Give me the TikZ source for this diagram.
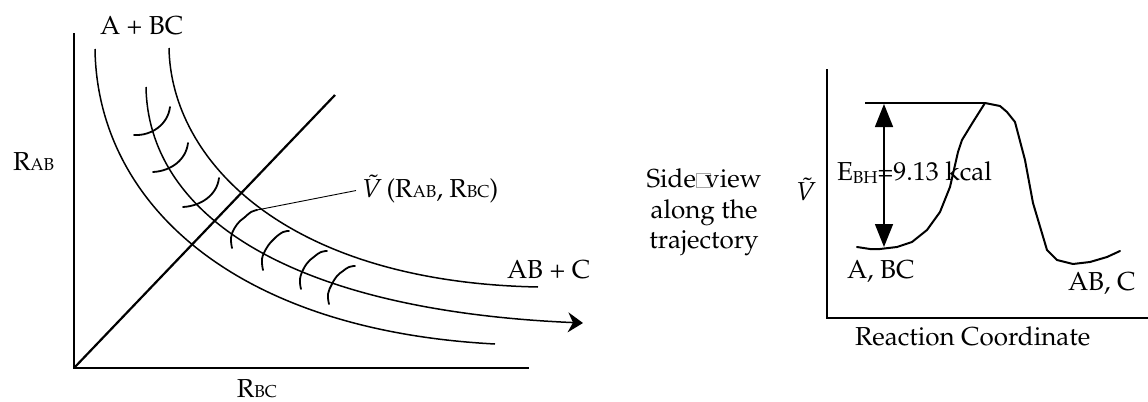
\documentclass[tikz,border=0pt]{standalone}
\usepackage[T1]{fontenc}
\usepackage{mathpazo}
\usetikzlibrary{arrows.meta}
\newcommand\smc[1]{{\fontsize{8.6pt}{10pt}\selectfont #1}}
\tikzset{
  lbl/.style={inner sep=0pt, outer sep=0pt, font=\fontsize{13pt}{16pt}\selectfont},
  axis/.style={line width=1.1pt},
  curve/.style={line width=0.75pt},
  tick/.style={line width=0.9pt, line cap=round},
  leader/.style={line width=0.45pt}
}
\begin{document}
\begin{tikzpicture}[x=0.5pt,y=-0.5pt]
\useasboundingbox (0,0) rectangle (1148,402);
% ---------- left panel ----------
\coordinate (O) at (74,368);
\coordinate (Ytop) at (74,33);
\coordinate (Xend) at (529,368);
\coordinate (Dend) at (335,95);
\draw[axis] (Ytop) -- (O) -- (Xend);
\draw[axis] (O) -- (Dend);
% three contour/trajectory curves
\coordinate (c1s) at (95,49);   \coordinate (c1e) at (495,344);
\coordinate (c2s) at (146,87);  \coordinate (c2e) at (583,323);
\coordinate (c3s) at (169,48);  \coordinate (c3e) at (538,287);
\draw[curve] (c1s) .. controls (97,200) and (230,330) .. (c1e);
\draw[curve, -{Stealth[length=7.5pt, width=10pt, inset=2.5pt]}] (c2s) .. controls (148,210) and (280,310) .. (c2e);
\draw[curve] (c3s) .. controls (171,160) and (285,282) .. (c3e);
% arcs before the ridge
\draw[tick] (134,135) .. controls (152,136) and (168,124) .. (170,107);
\draw[tick] (153,172) .. controls (171,171) and (186,160) .. (188,143);
\draw[tick] (183,207) .. controls (201,206) and (217,195) .. (219,178);
% squiggles after the ridge
\draw[tick] plot[smooth, tension=0.7] coordinates {(232,248) (231,238) (234,229) (240,221) (245,217) (251,212) (257,210)};
\coordinate (sq1) at (257,210);
\draw[tick] plot[smooth, tension=0.7] coordinates {(263,270) (262,259) (266,249) (271,242) (276,237) (283,232) (289,231)};
\draw[tick] plot[smooth, tension=0.7] coordinates {(301,289) (300,279) (304,268) (310,260) (315,256) (321,252) (327,251)};
\draw[tick] plot[smooth, tension=0.7] coordinates {(329,304) (328,294) (332,284) (337,276) (343,271) (349,267) (355,266)};
% labels
\node[lbl, anchor=base west] (abc) at (100,34) {A + BC};
\node[lbl, anchor=base west] (rab) at (13,170) {R\smc{AB}};
\node[lbl, anchor=base west] (vlab) at (362,197) {$\tilde{V}$\,(R\smc{AB}, R\smc{BC})};
\node[lbl, anchor=base west] (abpc) at (507,278) {AB + C};
\node[lbl, anchor=base] (rbc) at (257,397) {R\smc{BC}};
\draw[leader] (vlab.west) ++(-3pt,-1pt) coordinate (vl) -- (sq1);
% ---------- side view text ----------
\node[lbl, anchor=base] (sv1) at (704,187) {Side{\color{gray!70}\fboxsep=0pt\fboxrule=0.35pt\fbox{\rule{0pt}{6.8pt}\hspace{6.8pt}}}\kern-3pt view};
\node[lbl, anchor=base] (sv2) at (704,218) {along the};
\node[lbl, anchor=base] (sv3) at (704,248) {trajectory};
% ---------- right panel ----------
\coordinate (O2) at (827,318);
\coordinate (Y2) at (827,69);
\coordinate (X2) at (1148,318);
\draw[axis] (Y2) -- (O2) -- (X2);
\node[lbl, anchor=base west] (vt) at (796,200) {$\tilde{V}$};
\coordinate (top1) at (865,103);
\coordinate (top2) at (985,103);
\draw[curve] (top1) -- (top2);
\coordinate (ar1) at (884,104);
\coordinate (ar2) at (884,247);
\draw[curve, {Triangle[length=11.5pt, width=9pt]}-{Triangle[length=11.5pt, width=9pt]}] (ar1) -- (ar2);
\draw[line width=1pt, line join=round, line cap=round] (857,247) -- (870,249) -- (880,249) -- (897,247) -- (912,242) -- (927,230) -- (940,212) -- (950,187) -- (958,152) -- (962,140) -- (973,122) -- (985,103) -- (1000,106) -- (1007,112) -- (1015,122) -- (1025,160) -- (1033,203) -- (1047,250) -- (1057,260) -- (1073,264) -- (1090,262) -- (1107,257) -- (1120,251);
\node[lbl, anchor=base west] (ebh) at (837,180) {E\raisebox{-1.5pt}{\smc{BH}}=9.13 kcal};
\node[lbl, anchor=base west] (abc2) at (847,278) {A, BC};
\node[lbl, anchor=base west] (abc3) at (1068,290) {AB, C};
\node[lbl, anchor=base west] (rc) at (855,345) {Reaction Coordinate};
\end{tikzpicture}
\end{document}
